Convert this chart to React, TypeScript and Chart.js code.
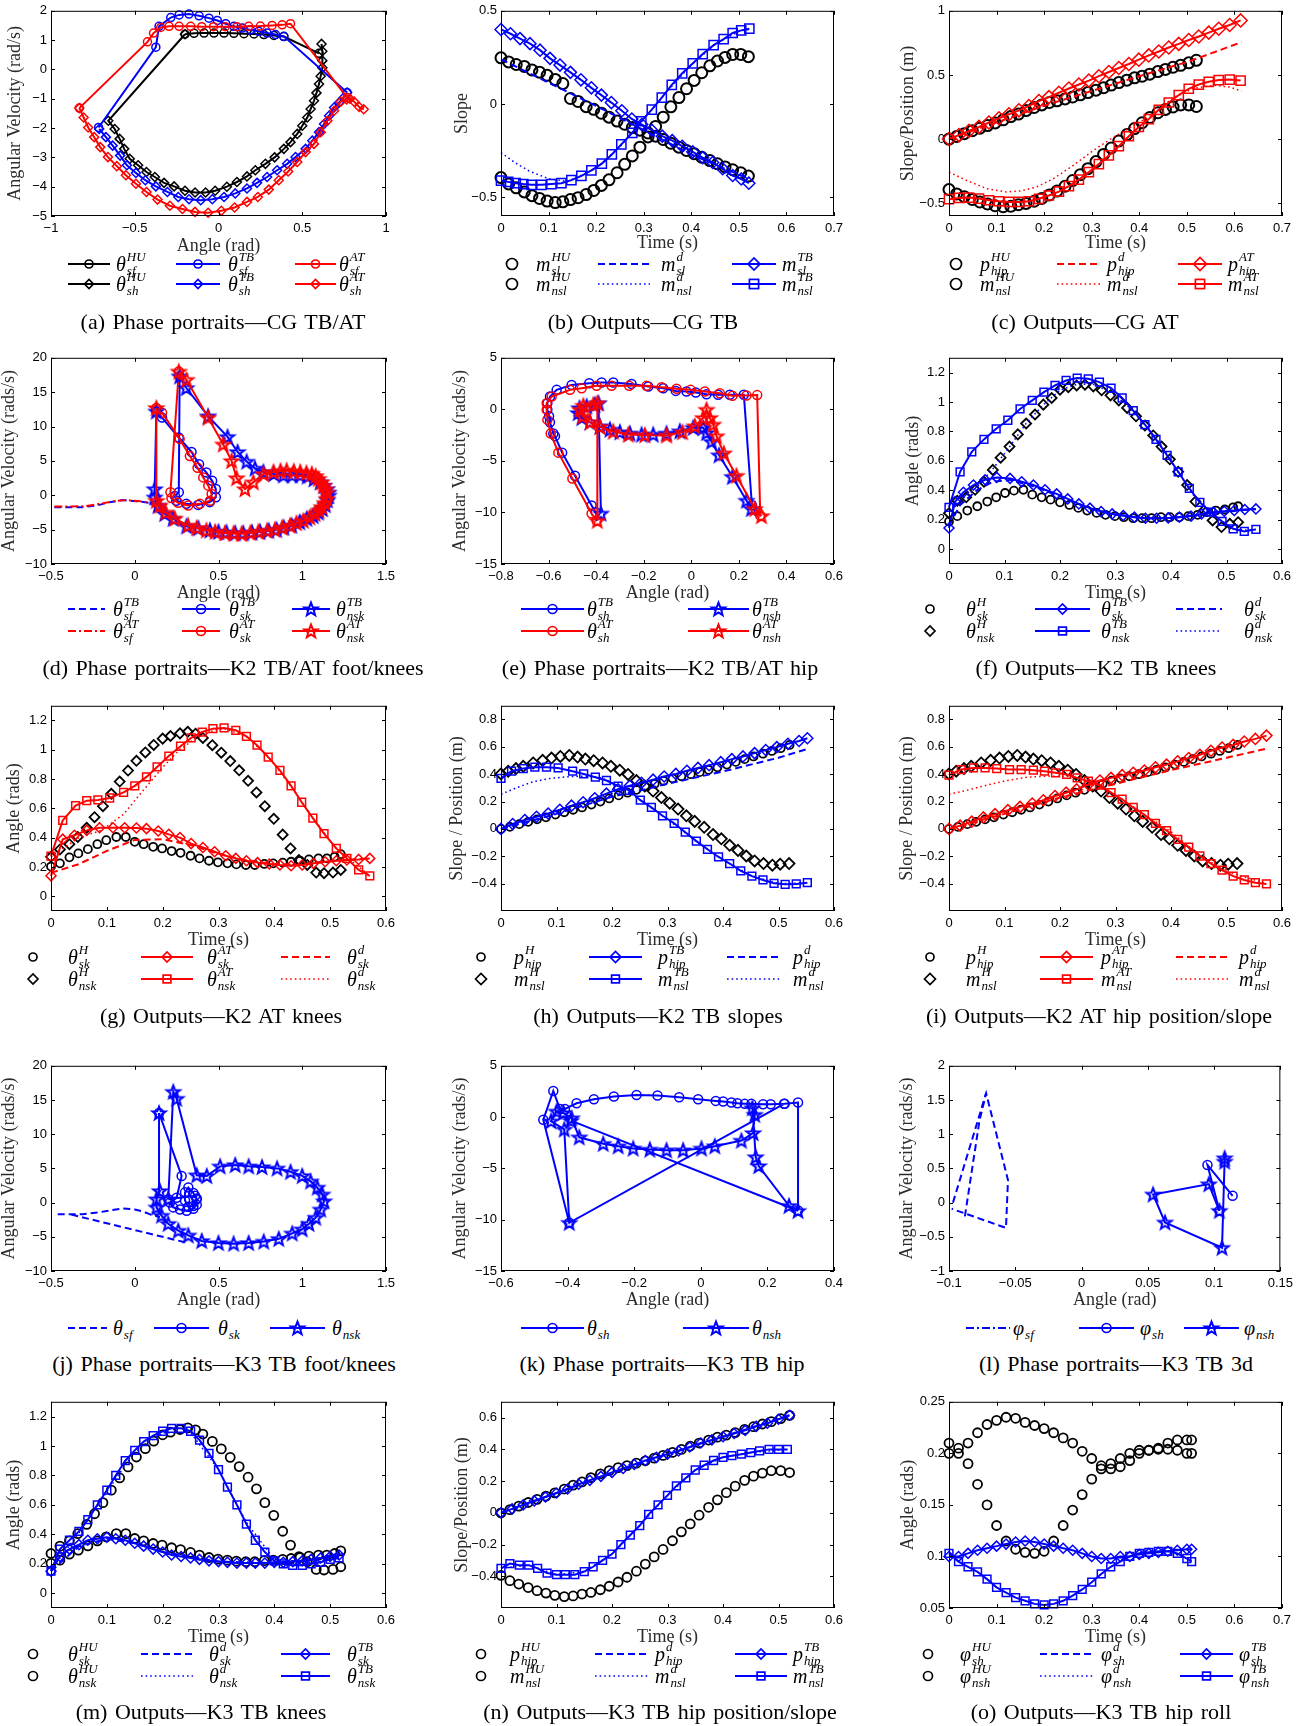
import React, { useEffect, useRef } from "react";
import { Chart, registerables } from "chart.js";
Chart.register(...registerables);

const K = "#000000", B = "#0000ff", R = "#ff0000";
const SERIF = '"Liberation Serif", "Times New Roman", Times, serif';
const SANS = '"Liberation Sans", Arial, Helvetica, sans-serif';

const zip = (t: number[], v: number[]) => t.map((x, i) => [x, v[i]]);

// ---------------- (a) Phase portraits — CG TB/AT
const A_XT = [-1, -0.5, 0, 0.5, 1];
const A_YT = [-5, -4, -3, -2, -1, 0, 1, 2];
const A_SF_HU = [[-0.2,1.2],[-0.146,1.23],[-0.086,1.24],[-0.027,1.24],[0.033,1.24],[0.092,1.23],[0.152,1.22],[0.212,1.21],[0.271,1.19],[0.331,1.16],[0.39,1.12],[0.6,0.55]];
const A_SH_HU = [[0.615,0.87],[0.62,0.62],[0.62,0.3],[0.62,0.06],[0.61,-0.23],[0.6,-0.5],[0.585,-0.8],[0.57,-1.07],[0.55,-1.35],[0.53,-1.64],[0.5,-1.92],[0.47,-2.2],[0.43,-2.48],[0.39,-2.71],[0.335,-3.0],[0.28,-3.22],[0.22,-3.44],[0.17,-3.65],[0.11,-3.84],[0.05,-4.0],[-0.02,-4.14],[-0.077,-4.2],[-0.14,-4.2],[-0.2,-4.14],[-0.265,-3.99],[-0.325,-3.87],[-0.38,-3.67],[-0.43,-3.5],[-0.48,-3.27],[-0.53,-3.05],[-0.563,-2.71],[-0.59,-2.37],[-0.62,-2.03],[-0.658,-1.75],[-0.2,1.2]];
const A_SF_TB = [[-0.716,-1.98],[-0.374,0.76],[-0.355,1.47],[-0.285,1.77],[-0.235,1.86],[-0.176,1.89],[-0.116,1.83],[-0.057,1.75],[-0.007,1.67],[0.043,1.56],[0.092,1.47],[0.142,1.41],[0.19,1.35],[0.24,1.3],[0.29,1.24],[0.34,1.19],[0.39,1.13],[0.768,-0.79]];
const A_SH_TB = [[0.768,-0.79],[0.748,-0.96],[0.72,-1.13],[0.69,-1.3],[0.66,-1.58],[0.63,-1.86],[0.6,-2.14],[0.56,-2.43],[0.52,-2.71],[0.46,-2.99],[0.41,-3.22],[0.35,-3.44],[0.29,-3.67],[0.23,-3.87],[0.17,-4.06],[0.1,-4.23],[0.033,-4.35],[-0.037,-4.43],[-0.106,-4.46],[-0.176,-4.43],[-0.24,-4.35],[-0.305,-4.18],[-0.374,-3.99],[-0.437,-3.78],[-0.493,-3.53],[-0.547,-3.27],[-0.587,-2.94],[-0.632,-2.6],[-0.672,-2.31],[-0.712,-2.03]];
const A_SF_AT = [[-0.831,-1.32],[-0.424,0.94],[-0.388,1.24],[-0.345,1.43],[-0.295,1.47],[-0.235,1.47],[-0.166,1.47],[-0.1,1.46],[-0.03,1.46],[0.04,1.46],[0.11,1.46],[0.18,1.47],[0.25,1.48],[0.32,1.5],[0.38,1.52],[0.43,1.56],[0.768,-0.96]];
const A_SH_AT = [[0.867,-1.36],[0.84,-1.28],[0.81,-1.1],[0.785,-1.0],[0.765,-1.02],[0.73,-1.1],[0.69,-1.41],[0.65,-1.75],[0.61,-2.14],[0.57,-2.54],[0.52,-2.82],[0.47,-3.16],[0.416,-3.48],[0.36,-3.78],[0.3,-4.1],[0.235,-4.35],[0.17,-4.52],[0.096,-4.71],[0.017,-4.82],[-0.062,-4.89],[-0.14,-4.86],[-0.215,-4.76],[-0.29,-4.65],[-0.364,-4.44],[-0.43,-4.18],[-0.493,-3.9],[-0.553,-3.61],[-0.607,-3.3],[-0.66,-2.99],[-0.706,-2.65],[-0.742,-2.31],[-0.778,-1.98],[-0.805,-1.64],[-0.831,-1.32]];

// ---------------- human (HU) outputs, CG
const T_HU = [0,0.016,0.032,0.049,0.065,0.081,0.097,0.114,0.130,0.146,0.162,0.179,0.195,0.211,0.227,0.244,0.260,0.276,0.292,0.309,0.325,0.341,0.357,0.374,0.390,0.406,0.422,0.439,0.455,0.471,0.487,0.504,0.520];
const MSL_HU = [0.248,0.226,0.212,0.202,0.183,0.171,0.154,0.132,0.11,0.03,0.014,-0.014,-0.028,-0.049,-0.07,-0.091,-0.108,-0.126,-0.14,-0.155,-0.172,-0.19,-0.21,-0.231,-0.249,-0.266,-0.285,-0.303,-0.32,-0.337,-0.352,-0.368,-0.386];
const MNSL_HU = [-0.394,-0.428,-0.449,-0.471,-0.491,-0.506,-0.52,-0.528,-0.524,-0.512,-0.502,-0.485,-0.463,-0.436,-0.406,-0.368,-0.323,-0.278,-0.231,-0.176,-0.12,-0.07,-0.015,0.035,0.082,0.127,0.168,0.205,0.231,0.25,0.266,0.266,0.254];
const PHIP_HU = [0,0.02,0.042,0.065,0.085,0.105,0.126,0.15,0.175,0.195,0.222,0.246,0.266,0.285,0.298,0.313,0.328,0.345,0.362,0.381,0.4,0.421,0.44,0.459,0.477,0.49,0.506,0.526,0.543,0.56,0.575,0.594,0.614];

// ---------------- (b) Outputs — CG TB
const B_XT = [0, 0.1, 0.2, 0.3, 0.4, 0.5, 0.6, 0.7];
const B_YT = [-0.5, 0, 0.5];
const B_MSL_D = [[0,0.24],[0.1,0.115],[0.2,-0.01],[0.3,-0.14],[0.4,-0.27],[0.52,-0.4]];
const B_MNSL_D = [[0,-0.26],[0.03,-0.315],[0.06,-0.36],[0.1,-0.4],[0.14,-0.415],[0.2,-0.345],[0.25,-0.23],[0.3,-0.08],[0.35,0.07],[0.4,0.21],[0.45,0.32],[0.5,0.39],[0.52,0.4]];
const B_MSL_TB = [[0,0.4],[0.02,0.377],[0.04,0.351],[0.061,0.324],[0.082,0.289],[0.103,0.245],[0.124,0.209],[0.146,0.17],[0.168,0.13],[0.19,0.087],[0.211,0.048],[0.232,0.008],[0.254,-0.036],[0.275,-0.08],[0.296,-0.11],[0.317,-0.14],[0.339,-0.172],[0.36,-0.196],[0.381,-0.226],[0.403,-0.256],[0.424,-0.287],[0.445,-0.313],[0.466,-0.347],[0.487,-0.383],[0.505,-0.402],[0.521,-0.424]];
const B_MNSL_TB = [[0,-0.41],[0.015,-0.417],[0.031,-0.424],[0.047,-0.429],[0.064,-0.433],[0.085,-0.433],[0.106,-0.429],[0.127,-0.424],[0.148,-0.408],[0.169,-0.385],[0.19,-0.355],[0.212,-0.319],[0.233,-0.27],[0.253,-0.216],[0.276,-0.154],[0.295,-0.092],[0.317,-0.03],[0.338,0.035],[0.359,0.103],[0.381,0.165],[0.403,0.218],[0.424,0.268],[0.447,0.316],[0.468,0.348],[0.487,0.381],[0.505,0.395],[0.522,0.404]];

// ---------------- (c) Outputs — CG AT
const C_YT = [-0.5, 0, 0.5, 1];
const C_PHIP_D = [[0,0],[0.1,0.13],[0.2,0.26],[0.3,0.375],[0.4,0.49],[0.5,0.6],[0.615,0.755]];
const C_MNSL_D = [[0,-0.258],[0.037,-0.322],[0.079,-0.387],[0.121,-0.412],[0.15,-0.405],[0.184,-0.374],[0.219,-0.31],[0.261,-0.206],[0.303,-0.09],[0.345,0.013],[0.387,0.103],[0.429,0.193],[0.471,0.322],[0.513,0.394],[0.555,0.42],[0.59,0.405],[0.615,0.374]];
const C_PHIP_AT = [[0,0],[0.021,0.031],[0.042,0.064],[0.063,0.095],[0.084,0.129],[0.105,0.162],[0.126,0.193],[0.147,0.224],[0.168,0.258],[0.189,0.296],[0.21,0.327],[0.231,0.361],[0.252,0.394],[0.273,0.425],[0.294,0.456],[0.315,0.49],[0.336,0.523],[0.357,0.554],[0.378,0.585],[0.399,0.619],[0.42,0.652],[0.441,0.683],[0.462,0.714],[0.483,0.742],[0.504,0.772],[0.525,0.8],[0.546,0.83],[0.567,0.86],[0.59,0.889],[0.613,0.925]];
const C_MNSL_AT = [[0,-0.469],[0.021,-0.459],[0.042,-0.456],[0.063,-0.464],[0.084,-0.477],[0.105,-0.485],[0.126,-0.49],[0.147,-0.49],[0.168,-0.485],[0.189,-0.466],[0.21,-0.44],[0.231,-0.41],[0.252,-0.367],[0.273,-0.316],[0.294,-0.258],[0.315,-0.195],[0.336,-0.128],[0.357,-0.055],[0.378,0.022],[0.399,0.094],[0.42,0.156],[0.441,0.228],[0.462,0.285],[0.483,0.343],[0.504,0.392],[0.525,0.425],[0.546,0.446],[0.567,0.46],[0.59,0.464],[0.613,0.456]];

// ---------------- (d) Phase portraits — K2 foot/knees
const D_XT = [-0.5, 0, 0.5, 1, 1.5];
const D_YT = [-10, -5, 0, 5, 10, 15, 20];
const D_SF_TB = [[-0.48,-1.73],[-0.31,-1.73],[-0.22,-1.45],[-0.15,-1.0],[-0.07,-0.7],[0.01,-0.87],[0.09,-1.1],[0.13,-1.4]];
const D_SF_AT = [[-0.48,-1.65],[-0.3,-1.6],[-0.2,-1.2],[-0.12,-0.85],[-0.05,-0.7],[0.02,-0.85],[0.09,-1.05],[0.13,-1.3]];
const D_SK_TB = [[0.129,12.2],[0.163,11.3],[0.263,8.4],[0.339,6.3],[0.384,4.5],[0.428,3.3],[0.462,2.1],[0.484,0.9],[0.484,-0.3],[0.448,-1.0],[0.378,-1.4],[0.308,-1.25],[0.248,-0.8],[0.24,-0.1],[0.263,0.43],[0.268,17.3]];
const D_SK_AT = [[0.129,12.7],[0.163,12.0],[0.268,8.2],[0.329,5.7],[0.375,4.0],[0.409,2.6],[0.439,1.4],[0.459,0.2],[0.449,-0.8],[0.389,-1.25],[0.319,-1.5],[0.259,-1.1],[0.219,-0.4],[0.213,0.43],[0.263,18.0]];
const D_NSK_TB = [[0.268,17.3],[0.308,15.6],[0.438,11.5],[0.554,8.5],[0.614,6.3],[0.668,4.9],[0.718,3.9],[0.768,3.4],[0.83,3.1],[0.888,2.9],[0.94,2.9],[0.988,2.9],[1.03,2.75],[1.07,2.35],[1.107,1.9],[1.13,1.4],[1.147,0.9],[1.157,0.4],[1.157,-0.05],[1.15,-0.7],[1.137,-1.4],[1.12,-2.0],[1.097,-2.5],[1.065,-3.0],[1.027,-3.4],[0.985,-3.9],[0.937,-4.4],[0.89,-4.7],[0.847,-5.0],[0.8,-5.15],[0.748,-5.3],[0.7,-5.4],[0.648,-5.5],[0.6,-5.5],[0.548,-5.4],[0.5,-5.3],[0.449,-5.1],[0.38,-4.8],[0.309,-4.5],[0.229,-3.4],[0.179,-2.7],[0.139,-1.5],[0.119,-0.3],[0.119,0.9],[0.129,12.2]];
const D_NSK_AT = [[0.263,18.0],[0.309,16.8],[0.438,11.3],[0.528,7.4],[0.578,5.0],[0.608,2.5],[0.658,0.9],[0.708,1.9],[0.768,3.1],[0.828,3.4],[0.87,3.55],[0.907,3.6],[0.95,3.5],[0.988,3.4],[1.025,3.25],[1.057,3.1],[1.08,2.8],[1.097,2.4],[1.115,1.9],[1.127,1.4],[1.14,0.9],[1.147,0.4],[1.147,-0.5],[1.135,-1.1],[1.117,-1.7],[1.1,-2.2],[1.077,-2.7],[1.045,-3.2],[1.007,-3.7],[0.965,-4.05],[0.927,-4.4],[0.88,-4.7],[0.837,-5.0],[0.79,-5.15],[0.738,-5.3],[0.69,-5.45],[0.638,-5.6],[0.59,-5.55],[0.538,-5.5],[0.48,-5.3],[0.428,-5.1],[0.37,-4.75],[0.318,-4.4],[0.239,-3.4],[0.185,-2.5],[0.149,-1.5],[0.129,-0.8],[0.129,12.7]];

// ---------------- (e) Phase portraits — K2 hip
const E_XT = [-0.8, -0.6, -0.4, -0.2, 0, 0.2, 0.4, 0.6];
const E_YT = [-15, -10, -5, 0, 5];
const E_SH_TB = [[0.255,-9.3],[0.221,1.41],[0.162,1.41],[0.113,1.41],[0.064,1.47],[0.019,1.63],[-0.02,1.73],[-0.065,1.79],[-0.118,2.05],[-0.181,2.21],[-0.251,2.47],[-0.328,2.6],[-0.377,2.6],[-0.429,2.53],[-0.503,2.37],[-0.566,1.89],[-0.594,1.25],[-0.605,0.6],[-0.605,-0.03],[-0.598,-0.67],[-0.594,-1.25],[-0.58,-2.34],[-0.573,-2.6],[-0.543,-4.2],[-0.489,-6.44],[-0.419,-9.33],[-0.402,-9.97]];
const E_NSH_TB = [[-0.38,-10.1],[-0.39,0.6],[-0.405,0.45],[-0.44,0.29],[-0.47,0.13],[-0.475,-0.35],[-0.46,-0.83],[-0.426,-1.25],[-0.384,-1.63],[-0.342,-1.96],[-0.3,-2.21],[-0.258,-2.34],[-0.209,-2.44],[-0.16,-2.44],[-0.104,-2.34],[-0.048,-2.12],[0.008,-1.79],[0.05,-1.79],[0.064,-2.28],[0.085,-3.14],[0.117,-4.45],[0.173,-6.54],[0.232,-8.85],[0.253,-9.65]];
const E_SH_AT = [[0.29,-10.3],[0.277,1.38],[0.232,1.35],[0.173,1.31],[0.12,1.57],[0.057,1.73],[-0.003,1.89],[-0.062,1.99],[-0.125,2.15],[-0.188,2.28],[-0.261,2.28],[-0.335,2.28],[-0.398,2.28],[-0.461,2.05],[-0.51,1.89],[-0.587,1.25],[-0.608,0.6],[-0.608,-0.03],[-0.605,-1.0],[-0.591,-2.34],[-0.559,-4.2],[-0.5,-6.7],[-0.419,-10.1],[-0.398,-10.8]];
const E_NSH_AT = [[-0.395,-10.8],[-0.395,0.6],[-0.412,0.45],[-0.454,0.35],[-0.468,-0.03],[-0.457,-0.67],[-0.426,-1.25],[-0.384,-1.7],[-0.328,-2.15],[-0.265,-2.44],[-0.195,-2.5],[-0.104,-2.53],[-0.037,-2.21],[0.015,-1.63],[0.05,-0.83],[0.064,-0.03],[0.078,-0.83],[0.092,-1.47],[0.106,-2.6],[0.137,-4.26],[0.19,-6.44],[0.267,-9.65],[0.295,-10.35]];

// ---------------- (f) Outputs — K2 TB knees
const F_XT = [0, 0.1, 0.2, 0.3, 0.4, 0.5, 0.6];
const F_YT = [0, 0.2, 0.4, 0.6, 0.8, 1, 1.2];
const F_SK_H = [[0,0.189],[0.015,0.225],[0.033,0.263],[0.051,0.292],[0.069,0.324],[0.085,0.353],[0.101,0.382],[0.117,0.398],[0.134,0.404],[0.15,0.371],[0.167,0.353],[0.183,0.337],[0.2,0.319],[0.217,0.301],[0.233,0.281],[0.249,0.263],[0.266,0.247],[0.282,0.234],[0.299,0.225],[0.315,0.218],[0.332,0.211],[0.348,0.211],[0.365,0.211],[0.382,0.218],[0.398,0.218],[0.415,0.218],[0.431,0.225],[0.448,0.234],[0.464,0.252],[0.481,0.263],[0.497,0.27],[0.512,0.285],[0.521,0.292]];
const F_NSK_H = [[0,0.245],[0.015,0.33],[0.031,0.353],[0.047,0.404],[0.063,0.458],[0.079,0.539],[0.093,0.622],[0.109,0.697],[0.124,0.78],[0.139,0.854],[0.155,0.915],[0.17,0.982],[0.185,1.027],[0.2,1.083],[0.215,1.101],[0.23,1.112],[0.245,1.117],[0.26,1.106],[0.275,1.079],[0.291,1.045],[0.306,1.011],[0.321,0.96],[0.337,0.903],[0.353,0.84],[0.368,0.773],[0.383,0.697],[0.398,0.611],[0.413,0.526],[0.429,0.436],[0.444,0.324],[0.459,0.263],[0.475,0.196],[0.491,0.151],[0.506,0.173],[0.521,0.184]];
const F_SK_TB = [[0,0.144],[0.011,0.324],[0.026,0.387],[0.044,0.436],[0.065,0.472],[0.086,0.488],[0.11,0.481],[0.131,0.458],[0.152,0.436],[0.173,0.404],[0.194,0.376],[0.214,0.342],[0.234,0.308],[0.254,0.279],[0.274,0.256],[0.294,0.24],[0.314,0.229],[0.334,0.218],[0.354,0.211],[0.374,0.211],[0.395,0.213],[0.415,0.218],[0.436,0.225],[0.455,0.24],[0.476,0.252],[0.496,0.258],[0.514,0.263],[0.533,0.27],[0.553,0.274]];
const F_NSK_TB = [[0,0.285],[0.02,0.526],[0.041,0.661],[0.063,0.746],[0.085,0.818],[0.106,0.876],[0.128,0.953],[0.15,1.011],[0.171,1.067],[0.191,1.112],[0.211,1.146],[0.231,1.162],[0.251,1.157],[0.271,1.135],[0.292,1.094],[0.312,1.027],[0.332,0.942],[0.353,0.847],[0.373,0.746],[0.393,0.638],[0.413,0.526],[0.433,0.413],[0.452,0.319],[0.472,0.252],[0.492,0.189],[0.512,0.139],[0.532,0.121],[0.553,0.135]];
const F_SK_D = [[0,0.16],[0.02,0.3],[0.05,0.4],[0.08,0.46],[0.11,0.47],[0.15,0.43],[0.2,0.36],[0.25,0.28],[0.3,0.235],[0.35,0.212],[0.4,0.212],[0.45,0.235],[0.5,0.258],[0.553,0.272]];
const F_NSK_D = [[0,0.27],[0.02,0.33],[0.05,0.42],[0.08,0.55],[0.11,0.7],[0.14,0.86],[0.17,0.98],[0.2,1.08],[0.23,1.12],[0.26,1.12],[0.29,1.07],[0.32,0.98],[0.35,0.86],[0.38,0.72],[0.41,0.54],[0.44,0.37],[0.47,0.25],[0.5,0.17],[0.53,0.13],[0.553,0.135]];

// ---------------- (g) Outputs — K2 AT knees
const G_SK_H = [[0,0.203],[0.016,0.225],[0.033,0.266],[0.049,0.293],[0.066,0.322],[0.083,0.356],[0.099,0.383],[0.117,0.405],[0.134,0.405],[0.15,0.372],[0.166,0.356],[0.183,0.338],[0.199,0.327],[0.216,0.309],[0.232,0.297],[0.25,0.277],[0.266,0.259],[0.283,0.243],[0.299,0.232],[0.316,0.225],[0.332,0.218],[0.349,0.214],[0.365,0.214],[0.382,0.221],[0.398,0.225],[0.415,0.23],[0.43,0.236],[0.446,0.243],[0.462,0.252],[0.479,0.259],[0.494,0.259],[0.508,0.27],[0.519,0.288]];
const G_NSK_H = [[0,0.27],[0.016,0.32],[0.033,0.356],[0.048,0.405],[0.064,0.468],[0.078,0.54],[0.093,0.615],[0.108,0.7],[0.123,0.783],[0.138,0.858],[0.153,0.925],[0.169,0.982],[0.184,1.033],[0.2,1.076],[0.214,1.094],[0.231,1.112],[0.245,1.123],[0.259,1.11],[0.272,1.081],[0.289,1.031],[0.305,0.98],[0.321,0.923],[0.337,0.86],[0.353,0.788],[0.368,0.709],[0.383,0.615],[0.399,0.529],[0.415,0.421],[0.429,0.327],[0.444,0.248],[0.459,0.214],[0.475,0.162],[0.489,0.158],[0.505,0.162],[0.519,0.18]];
const G_SK_AT = [[0,0.14],[0.021,0.39],[0.042,0.417],[0.064,0.45],[0.087,0.468],[0.111,0.468],[0.132,0.468],[0.153,0.466],[0.171,0.462],[0.192,0.446],[0.211,0.423],[0.231,0.401],[0.251,0.36],[0.272,0.333],[0.293,0.304],[0.313,0.277],[0.331,0.259],[0.35,0.243],[0.37,0.23],[0.391,0.221],[0.41,0.214],[0.43,0.209],[0.45,0.214],[0.47,0.225],[0.491,0.236],[0.511,0.243],[0.53,0.248],[0.551,0.252],[0.571,0.259]];
const G_NSK_AT = [[0,0.275],[0.021,0.518],[0.044,0.619],[0.064,0.653],[0.084,0.658],[0.105,0.671],[0.13,0.709],[0.15,0.754],[0.171,0.815],[0.19,0.883],[0.211,0.957],[0.232,1.024],[0.251,1.081],[0.271,1.121],[0.29,1.144],[0.31,1.149],[0.331,1.133],[0.35,1.092],[0.369,1.031],[0.389,0.95],[0.41,0.86],[0.43,0.754],[0.449,0.642],[0.469,0.534],[0.489,0.428],[0.511,0.327],[0.53,0.259],[0.551,0.18],[0.571,0.14]];
const G_SK_D = [[0,0.16],[0.05,0.22],[0.1,0.31],[0.15,0.385],[0.2,0.39],[0.25,0.35],[0.3,0.29],[0.35,0.245],[0.4,0.22],[0.45,0.215],[0.5,0.24],[0.571,0.26]];
const G_NSK_D = [[0,0.27],[0.05,0.4],[0.09,0.45],[0.13,0.56],[0.16,0.7],[0.2,0.88],[0.23,1.0],[0.26,1.08],[0.29,1.13],[0.31,1.145],[0.35,1.09],[0.39,0.95],[0.43,0.75],[0.47,0.53],[0.51,0.33],[0.571,0.14]];

// ---------------- (h) Outputs — K2 TB slopes
const H_YT = [-0.4, -0.2, 0, 0.2, 0.4, 0.6, 0.8];
const H_PHIP_H = [[0,0],[0.016,0.015],[0.033,0.035],[0.049,0.052],[0.065,0.07],[0.081,0.085],[0.098,0.105],[0.114,0.122],[0.13,0.14],[0.146,0.157],[0.163,0.178],[0.179,0.2],[0.195,0.223],[0.212,0.245],[0.228,0.265],[0.244,0.286],[0.26,0.31],[0.277,0.33],[0.293,0.352],[0.309,0.37],[0.325,0.385],[0.342,0.4],[0.358,0.415],[0.374,0.432],[0.39,0.45],[0.407,0.47],[0.423,0.49],[0.439,0.51],[0.455,0.53],[0.472,0.55],[0.488,0.57],[0.504,0.59],[0.52,0.614]];
const H_MNSL_H = [[0,0.402],[0.013,0.422],[0.027,0.441],[0.04,0.458],[0.058,0.482],[0.075,0.501],[0.091,0.518],[0.107,0.53],[0.123,0.537],[0.138,0.525],[0.152,0.511],[0.167,0.499],[0.183,0.482],[0.198,0.458],[0.214,0.429],[0.229,0.398],[0.244,0.354],[0.259,0.313],[0.274,0.277],[0.289,0.229],[0.304,0.188],[0.319,0.145],[0.334,0.096],[0.349,0.055],[0.366,0.012],[0.382,-0.041],[0.397,-0.072],[0.412,-0.12],[0.427,-0.157],[0.442,-0.198],[0.457,-0.234],[0.473,-0.253],[0.489,-0.265],[0.503,-0.258],[0.519,-0.253]];
const H_PHIP_TB = [[0,0],[0.021,0.036],[0.043,0.065],[0.064,0.089],[0.085,0.113],[0.106,0.14],[0.127,0.17],[0.148,0.195],[0.169,0.224],[0.19,0.258],[0.211,0.29],[0.232,0.315],[0.253,0.337],[0.274,0.36],[0.294,0.383],[0.315,0.402],[0.335,0.425],[0.355,0.446],[0.375,0.466],[0.396,0.488],[0.416,0.51],[0.436,0.53],[0.457,0.554],[0.477,0.577],[0.497,0.598],[0.517,0.622],[0.537,0.643],[0.552,0.663]];
const H_MNSL_TB = [[0,0.369],[0.019,0.422],[0.04,0.441],[0.061,0.451],[0.082,0.451],[0.103,0.446],[0.129,0.422],[0.149,0.402],[0.17,0.378],[0.19,0.354],[0.211,0.313],[0.231,0.282],[0.251,0.21],[0.271,0.157],[0.291,0.096],[0.312,0.041],[0.332,-0.024],[0.352,-0.089],[0.372,-0.149],[0.392,-0.205],[0.412,-0.253],[0.432,-0.306],[0.452,-0.345],[0.472,-0.373],[0.492,-0.398],[0.512,-0.405],[0.532,-0.402],[0.552,-0.393]];
const H_PHIP_D = [[0,0],[0.1,0.11],[0.2,0.235],[0.25,0.28],[0.3,0.33],[0.4,0.42],[0.5,0.52],[0.552,0.585]];
const H_MNSL_D = [[0,0.253],[0.028,0.301],[0.058,0.345],[0.088,0.369],[0.118,0.381],[0.148,0.386],[0.18,0.375],[0.21,0.32],[0.25,0.215],[0.3,0.07],[0.35,-0.085],[0.4,-0.225],[0.45,-0.34],[0.5,-0.4],[0.552,-0.395]];

// ---------------- (i) Outputs — K2 AT hip position/slope
const I_PHIP_AT = [[0,0],[0.02,0.024],[0.041,0.053],[0.062,0.084],[0.083,0.108],[0.106,0.137],[0.128,0.161],[0.15,0.186],[0.17,0.21],[0.191,0.241],[0.211,0.265],[0.23,0.289],[0.251,0.325],[0.272,0.354],[0.292,0.373],[0.312,0.393],[0.332,0.41],[0.352,0.427],[0.372,0.451],[0.392,0.47],[0.412,0.494],[0.432,0.518],[0.452,0.542],[0.472,0.571],[0.492,0.595],[0.512,0.614],[0.532,0.639],[0.552,0.658],[0.572,0.682]];
const I_MNSL_AT = [[0,0.393],[0.022,0.434],[0.044,0.446],[0.065,0.446],[0.086,0.441],[0.109,0.434],[0.13,0.434],[0.152,0.429],[0.172,0.422],[0.192,0.41],[0.212,0.398],[0.231,0.373],[0.251,0.349],[0.271,0.32],[0.292,0.265],[0.312,0.217],[0.332,0.157],[0.352,0.104],[0.372,0.041],[0.392,-0.012],[0.412,-0.077],[0.432,-0.133],[0.452,-0.198],[0.472,-0.253],[0.492,-0.301],[0.512,-0.345],[0.532,-0.373],[0.552,-0.393],[0.572,-0.402]];
const I_PHIP_D = [[0,0],[0.1,0.11],[0.2,0.23],[0.3,0.33],[0.4,0.43],[0.5,0.52],[0.575,0.59]];
const I_MNSL_D = [[0,0.253],[0.032,0.282],[0.068,0.32],[0.104,0.354],[0.14,0.378],[0.176,0.386],[0.22,0.385],[0.26,0.335],[0.3,0.25],[0.35,0.11],[0.4,-0.02],[0.45,-0.19],[0.5,-0.31],[0.572,-0.4]];

// ---------------- (j) Phase portraits — K3 foot/knees
const J_SF_A = [[-0.46,-1.7],[-0.31,-1.7],[-0.22,-1.45],[-0.15,-1.15],[-0.07,-0.87],[0.0,-1.0],[0.05,-1.3],[0.1,-1.8],[0.15,-2.1]];
const J_SF_B = [[0.3,-5.8],[-0.38,-1.75]];
const J_SK = [[0.145,13.1],[0.28,3.9],[0.25,0.7],[0.21,0.0],[0.23,-0.7],[0.27,-1.0],[0.31,-1.2],[0.35,-0.9],[0.37,-0.3],[0.37,0.5],[0.35,1.4],[0.32,2.2],[0.3,1.5],[0.3,0.3],[0.32,-0.6],[0.35,-0.5],[0.37,0.6],[0.36,1.0],[0.2,0.5]];
const J_NSK = [[0.2,0.5],[0.23,16.2],[0.25,15.2],[0.37,4.0],[0.43,3.9],[0.51,5.3],[0.6,5.5],[0.68,5.3],[0.76,5.2],[0.85,5.0],[0.93,4.5],[1.0,3.9],[1.05,3.1],[1.09,2.2],[1.12,1.2],[1.13,0.2],[1.11,-1.0],[1.08,-2.2],[1.04,-3.1],[1.0,-3.9],[0.94,-4.5],[0.86,-5.3],[0.77,-5.7],[0.68,-5.9],[0.59,-6.0],[0.5,-5.9],[0.4,-5.6],[0.32,-4.8],[0.26,-4.1],[0.2,-3.1],[0.16,-1.9],[0.13,-0.7],[0.13,0.5],[0.15,1.7],[0.145,13.1]];

// ---------------- (k) Phase portraits — K3 hip
const K_XT = [-0.6, -0.4, -0.2, 0, 0.2, 0.4];
const K_SH = [[0.292,-9.1],[0.292,1.42],[0.252,1.29],[0.21,1.26],[0.187,1.26],[0.152,1.29],[0.132,1.29],[0.11,1.35],[0.092,1.42],[0.067,1.52],[0.045,1.58],[-0.008,1.74],[-0.065,1.94],[-0.13,2.1],[-0.193,2.16],[-0.261,2.0],[-0.321,1.74],[-0.373,1.35],[-0.408,0.8],[-0.423,0.8],[-0.443,2.55],[-0.473,-0.26],[-0.395,-10.3],[0.25,1.3]];
const K_NSH = [[-0.395,-10.3],[-0.41,-1.2],[-0.45,-0.4],[-0.433,0.55],[-0.413,0.4],[-0.388,-0.1],[-0.365,-1.97],[-0.293,-2.6],[-0.248,-2.84],[-0.203,-3.06],[-0.153,-3.16],[-0.103,-3.23],[-0.053,-3.23],[0.002,-3.06],[0.042,-2.84],[0.122,-2.29],[0.157,-1.55],[0.162,0.23],[0.155,0.87],[0.165,-3.9],[0.174,-4.77],[0.265,-8.65],[0.292,-9.13],[-0.39,-0.35]];

// ---------------- (l) Phase portraits — K3 3d
const L_XT = [-0.1, -0.05, 0, 0.05, 0.1, 0.15];
const L_YT = [-1, -0.5, 0, 0.5, 1, 1.5, 2];
const L_SF_A = [[-0.097,0.0],[-0.072,1.6],[-0.0555,0.33],[-0.057,-0.37],[-0.098,-0.09]];
const L_SF_B = [[-0.088,-0.2],[-0.077,1.2],[-0.072,1.6]];
const L_SH = [[0.114,0.1],[0.095,0.55],[0.104,-0.12]];
const L_NSH = [[0.104,-0.12],[0.096,0.27],[0.054,0.12],[0.063,-0.29],[0.106,-0.66],[0.108,0.65],[0.108,0.6]];

// ---------------- (m) Outputs — K3 TB knees
const M_SK_TB = [[0,0.15],[0.016,0.25],[0.033,0.3],[0.05,0.33],[0.066,0.36],[0.083,0.37],[0.1,0.38],[0.116,0.37],[0.133,0.36],[0.15,0.34],[0.166,0.32],[0.183,0.3],[0.2,0.28],[0.216,0.26],[0.233,0.25],[0.25,0.24],[0.266,0.23],[0.283,0.22],[0.3,0.215],[0.316,0.21],[0.333,0.205],[0.35,0.205],[0.366,0.205],[0.383,0.205],[0.4,0.21],[0.416,0.21],[0.433,0.215],[0.45,0.22],[0.466,0.23],[0.483,0.24],[0.5,0.25],[0.516,0.26]];
const M_NSK_TB = [[0,0.15],[0.016,0.3],[0.033,0.36],[0.05,0.42],[0.066,0.5],[0.083,0.6],[0.1,0.7],[0.116,0.8],[0.133,0.9],[0.15,0.97],[0.166,1.03],[0.183,1.07],[0.2,1.1],[0.216,1.12],[0.233,1.12],[0.25,1.1],[0.266,1.04],[0.283,0.95],[0.3,0.84],[0.316,0.72],[0.333,0.6],[0.35,0.47],[0.366,0.36],[0.383,0.28],[0.4,0.22],[0.416,0.2],[0.433,0.19],[0.45,0.19],[0.466,0.2],[0.483,0.21],[0.5,0.23],[0.516,0.24]];
const M_SK_D = [[0,0.15],[0.05,0.32],[0.1,0.37],[0.15,0.34],[0.2,0.28],[0.3,0.215],[0.4,0.205],[0.5,0.245],[0.516,0.255]];
const M_NSK_D = [[0,0.16],[0.05,0.41],[0.1,0.69],[0.15,0.96],[0.2,1.09],[0.25,1.09],[0.3,0.84],[0.35,0.48],[0.4,0.23],[0.45,0.19],[0.516,0.24]];

// ---------------- (n) Outputs — K3 TB hip position/slope
const N_YT = [-0.4, -0.2, 0, 0.2, 0.4, 0.6];
const N_PHIP_TB = [[0,0],[0.02,0.025],[0.04,0.05],[0.06,0.075],[0.08,0.1],[0.1,0.125],[0.12,0.15],[0.14,0.18],[0.16,0.205],[0.18,0.23],[0.2,0.255],[0.22,0.28],[0.24,0.305],[0.26,0.33],[0.28,0.35],[0.3,0.37],[0.32,0.39],[0.34,0.415],[0.36,0.44],[0.38,0.46],[0.4,0.48],[0.42,0.5],[0.44,0.52],[0.46,0.545],[0.48,0.565],[0.5,0.59],[0.52,0.615]];
const N_MNSL_TB = [[0,-0.35],[0.016,-0.32],[0.033,-0.33],[0.05,-0.33],[0.066,-0.35],[0.083,-0.38],[0.1,-0.39],[0.116,-0.39],[0.133,-0.39],[0.15,-0.37],[0.166,-0.34],[0.183,-0.3],[0.2,-0.26],[0.216,-0.2],[0.233,-0.14],[0.25,-0.08],[0.266,-0.01],[0.283,0.05],[0.3,0.11],[0.316,0.17],[0.333,0.22],[0.35,0.27],[0.366,0.3],[0.383,0.33],[0.4,0.35],[0.416,0.36],[0.433,0.37],[0.45,0.38],[0.466,0.39],[0.483,0.4],[0.5,0.4],[0.516,0.4]];
const N_PHIP_D = [[0,0],[0.1,0.125],[0.2,0.25],[0.3,0.37],[0.4,0.48],[0.52,0.615]];
const N_MNSL_D = [[0,-0.35],[0.05,-0.33],[0.1,-0.39],[0.15,-0.37],[0.2,-0.26],[0.25,-0.08],[0.3,0.11],[0.35,0.27],[0.4,0.35],[0.45,0.38],[0.516,0.4]];

// ---------------- (o) Outputs — K3 TB hip roll
const O_YT = [0.05, 0.1, 0.15, 0.2, 0.25];
const T_O = [0,0.02,0.04,0.06,0.08,0.1,0.12,0.14,0.16,0.18,0.2,0.22,0.24,0.26,0.28,0.3,0.32,0.34,0.36,0.38,0.4,0.42,0.44,0.46,0.48,0.5,0.51];
const O_SH_HU = [0.21,0.205,0.21,0.22,0.228,0.232,0.235,0.234,0.23,0.227,0.224,0.22,0.215,0.21,0.202,0.195,0.188,0.185,0.187,0.193,0.2,0.203,0.204,0.204,0.203,0.2,0.2];
const O_NSH_HU = [0.2,0.2,0.19,0.17,0.15,0.13,0.115,0.107,0.104,0.103,0.105,0.115,0.13,0.145,0.16,0.175,0.185,0.19,0.195,0.2,0.203,0.203,0.205,0.21,0.213,0.213,0.213];
const O_SH_TB = [0.1,0.1,0.103,0.106,0.108,0.11,0.112,0.114,0.115,0.114,0.112,0.11,0.108,0.106,0.103,0.1,0.098,0.098,0.1,0.1,0.102,0.103,0.104,0.105,0.106,0.107,0.107];
const O_NSH_TB = [0.103,0.095,0.09,0.085,0.078,0.07,0.065,0.06,0.057,0.054,0.053,0.054,0.057,0.062,0.068,0.075,0.083,0.09,0.095,0.1,0.103,0.104,0.105,0.105,0.103,0.098,0.095];

// ---------------- styling helpers
type Pt = number[];
interface Ser { d: Pt[]; c: string; m: string | null; l: string | null; r: number; lw: number; mw: number; }
const S = (d: Pt[], c: string, m: string | null, l: string | null, r = 4, lw = 2, mw = 1.5): Ser => ({ d, c, m, l, r, lw, mw: m === "*" && mw === 1.5 ? 2 : mw });
interface Leg { c: string; l: string | null; m: string | null; r: number; b: string; sup: string; sub: string; }
const L = (c: string, l: string | null, m: string | null, r: number, b: string, sup: string, sub: string): Leg => ({ c, l, m, r, b, sup, sub });

const dashOf = (l: string | null) => (l === "--" ? [7, 4] : l === ":" ? [1.6, 3] : l === "-." ? [8, 3, 2, 3] : []);

const starCache: Record<string, HTMLCanvasElement> = {};
function starPts(cx: number, cy: number, r: number) {
  const pts: number[][] = [];
  for (let i = 0; i < 10; i++) {
    const a = -Math.PI / 2 + (i * Math.PI) / 5;
    const rr = i % 2 === 0 ? r : r * 0.42;
    pts.push([cx + rr * Math.cos(a), cy + rr * Math.sin(a)]);
  }
  return pts;
}
function starImg(color: string, r: number, lw: number) {
  const key = color + "_" + r + "_" + lw;
  if (starCache[key]) return starCache[key];
  const s = Math.ceil(2 * r + 2 * lw + 2);
  const c = document.createElement("canvas");
  c.width = s; c.height = s;
  const ctx = c.getContext("2d")!;
  ctx.strokeStyle = color; ctx.lineWidth = lw; ctx.lineJoin = "miter";
  ctx.beginPath();
  starPts(s / 2, s / 2 + r * 0.08, r).forEach((p, i) => (i === 0 ? ctx.moveTo(p[0], p[1]) : ctx.lineTo(p[0], p[1])));
  ctx.closePath(); ctx.stroke();
  starCache[key] = c;
  return c;
}

function toDs(s: Ser, i: number) {
  let ps: any = "circle";
  if (s.m === "d") ps = "rectRot";
  else if (s.m === "s") ps = "rect";
  else if (s.m === "*") ps = starImg(s.c, s.r, s.mw);
  return {
    data: s.d.map((p) => ({ x: p[0], y: p[1] })),
    showLine: !!s.l,
    borderColor: s.c,
    backgroundColor: s.c,
    borderWidth: s.l ? s.lw : 0,
    borderDash: dashOf(s.l),
    pointStyle: s.m ? ps : false,
    pointRadius: s.m ? s.r : 0,
    pointHoverRadius: s.m ? s.r : 0,
    pointBorderWidth: s.mw,
    pointBorderColor: s.c,
    pointBackgroundColor: "rgba(0,0,0,0)",
    tension: 0,
    clip: false,
    order: -i,
  };
}

const fmt = (v: number) => String(Math.round(v * 10000) / 10000).replace("-", "\u2212");

const boxPlugin = {
  id: "matlabBox",
  afterDraw(chart: any) {
    const { ctx, chartArea } = chart;
    const { left, right, top, bottom } = chartArea;
    const xs = chart.scales.x, ys = chart.scales.y;
    const tl = 4;
    ctx.save();
    ctx.strokeStyle = "#000";
    ctx.lineWidth = 1;
    ctx.strokeRect(left + 0.5, top + 0.5, right - left - 1, bottom - top - 1);
    ctx.beginPath();
    xs.ticks.forEach((t: any) => {
      const px = Math.round(xs.getPixelForValue(t.value)) + 0.5;
      ctx.moveTo(px, bottom); ctx.lineTo(px, bottom - tl);
      ctx.moveTo(px, top); ctx.lineTo(px, top + tl);
    });
    ys.ticks.forEach((t: any) => {
      const py = Math.round(ys.getPixelForValue(t.value)) + 0.5;
      ctx.moveTo(left, py); ctx.lineTo(left + tl, py);
      ctx.moveTo(right, py); ctx.lineTo(right - tl, py);
    });
    ctx.stroke();
    ctx.restore();
  },
};

// ---------------- layout
const R1 = { y: 9, h: 207 }, R2 = { y: 356, h: 208 }, R3 = { y: 704, h: 207 }, R4 = { y: 1064, h: 207 }, R5 = { y: 1400, h: 208 };
const C1 = { x: 51, w: 335 }, C2 = { x: 501, w: 333 }, C3 = { x: 949, w: 333 };
const PT = 10, PR = 16;

interface Panel {
  id: string; col: any; row: any; xr: number[]; yr: number[]; xt: number[]; yt: number[];
  xtitle: string; ytitle: string; yGap: number; xGap: number; series: Ser[];
  lc: number[][]; lr: number[]; leg: Leg[]; cap: string; capX: number; capY: number;
}

const TH = "\u03b8", PH = "\u03c6";

const PANELS: Panel[] = [
  {
    id: "a", col: C1, row: R1, xr: [-1, 1], yr: [-5, 2], xt: A_XT, yt: A_YT,
    xtitle: "Angle (rad)", ytitle: "Angular Velocity (rad/s)", yGap: 36, xGap: 30,
    series: [S(A_SF_HU, K, "o", "-", 4), S(A_SH_HU, K, "d", "-", 4.5), S(A_SF_TB, B, "o", "-", 4), S(A_SH_TB, B, "d", "-", 4.5), S(A_SF_AT, R, "o", "-", 4), S(A_SH_AT, R, "d", "-", 4.5)],
    lc: [[68, 110, 116], [176, 220, 228], [295, 336, 339]], lr: [264, 284],
    leg: [L(K, "-", "o", 4, TH, "HU", "sf"), L(B, "-", "o", 4, TH, "TB", "sf"), L(R, "-", "o", 4, TH, "AT", "sf"), L(K, "-", "d", 4.5, TH, "HU", "sh"), L(B, "-", "d", 4.5, TH, "TB", "sh"), L(R, "-", "d", 4.5, TH, "AT", "sh")],
    cap: "(a) Phase portraits\u2014CG TB/AT", capX: 223, capY: 322,
  },
  {
    id: "b", col: C2, row: R1, xr: [0, 0.7], yr: [-0.6, 0.5], xt: B_XT, yt: B_YT,
    xtitle: "Time (s)", ytitle: "Slope", yGap: 39, xGap: 27,
    series: [S(zip(T_HU, MSL_HU), K, "o", null, 5.5, 2, 2), S(zip(T_HU, MNSL_HU), K, "o", null, 5.5, 2, 2), S(B_MSL_D, B, null, "--"), S(B_MNSL_D, B, null, ":", 4, 1.5), S(B_MSL_TB, B, "d", "-", 6), S(B_MNSL_TB, B, "s", "-", 6.5)],
    lc: [[490, 534, 536], [598, 650, 661], [732, 776, 782]], lr: [264, 284],
    leg: [L(K, null, "o", 5.5, "m", "HU", "sl"), L(B, "--", null, 0, "m", "d", "sl"), L(B, "-", "d", 6, "m", "TB", "sl"), L(K, null, "o", 5.5, "m", "HU", "nsl"), L(B, ":", null, 0, "m", "d", "nsl"), L(B, "-", "s", 6.5, "m", "TB", "nsl")],
    cap: "(b) Outputs\u2014CG TB", capX: 643, capY: 322,
  },
  {
    id: "c", col: C3, row: R1, xr: [0, 0.7], yr: [-0.6, 1], xt: B_XT, yt: C_YT,
    xtitle: "Time (s)", ytitle: "Slope/Position (m)", yGap: 41, xGap: 27,
    series: [S(zip(T_HU, PHIP_HU), K, "o", null, 5.5, 2, 2), S(zip(T_HU, MNSL_HU), K, "o", null, 5.5, 2, 2), S(C_PHIP_D, R, null, "--"), S(C_MNSL_D, R, null, ":", 4, 1.5), S(C_PHIP_AT, R, "d", "-", 6.5), S(C_MNSL_AT, R, "s", "-", 6.5)],
    lc: [[934, 978, 980], [1057, 1101, 1107], [1178, 1222, 1228]], lr: [264, 284],
    leg: [L(K, null, "o", 5.5, "p", "HU", "hip"), L(R, "--", null, 0, "p", "d", "hip"), L(R, "-", "d", 6.5, "p", "AT", "hip"), L(K, null, "o", 5.5, "m", "HU", "nsl"), L(R, ":", null, 0, "m", "d", "nsl"), L(R, "-", "s", 6.5, "m", "AT", "nsl")],
    cap: "(c) Outputs\u2014CG AT", capX: 1085, capY: 322,
  },
  {
    id: "d", col: C1, row: R2, xr: [-0.5, 1.5], yr: [-10, 20], xt: D_XT, yt: D_YT,
    xtitle: "Angle (rad)", ytitle: "Angular Velocity (rads/s)", yGap: 42, xGap: 29,
    series: [S(D_SF_TB, B, null, "--"), S(D_SF_AT, R, null, "-."), S(D_SK_TB, B, "o", "-", 4.5), S(D_SK_AT, R, "o", "-", 4.5), S(D_NSK_TB, B, "*", "-", 7), S(D_NSK_AT, R, "*", "-", 7)],
    lc: [[68, 105, 113], [182, 220, 229], [292, 330, 336]], lr: [609, 631],
    leg: [L(B, "--", null, 0, TH, "TB", "sf"), L(B, "-", "o", 4.5, TH, "TB", "sk"), L(B, "-", "*", 7, TH, "TB", "nsk"), L(R, "-.", null, 0, TH, "AT", "sf"), L(R, "-", "o", 4.5, TH, "AT", "sk"), L(R, "-", "*", 7, TH, "AT", "nsk")],
    cap: "(d) Phase portraits\u2014K2 TB/AT foot/knees", capX: 233, capY: 668,
  },
  {
    id: "e", col: C2, row: R2, xr: [-0.8, 0.6], yr: [-15, 5], xt: E_XT, yt: E_YT,
    xtitle: "Angle (rad)", ytitle: "Angular Velocity (rads/s)", yGap: 41, xGap: 29,
    series: [S(E_SH_TB, B, "o", "-", 4.5), S(E_SH_AT, R, "o", "-", 4.5), S(E_NSH_TB, B, "*", "-", 7), S(E_NSH_AT, R, "*", "-", 7)],
    lc: [[521, 584, 587], [688, 749, 752]], lr: [609, 631],
    leg: [L(B, "-", "o", 4.5, TH, "TB", "sh"), L(B, "-", "*", 7, TH, "TB", "nsh"), L(R, "-", "o", 4.5, TH, "AT", "sh"), L(R, "-", "*", 7, TH, "AT", "nsh")],
    cap: "(e) Phase portraits\u2014K2 TB/AT hip", capX: 660, capY: 668,
  },
  {
    id: "f", col: C3, row: R2, xr: [0, 0.6], yr: [-0.1, 1.3], xt: F_XT, yt: F_YT,
    xtitle: "Time (s)", ytitle: "Angle (rads)", yGap: 36, xGap: 29,
    series: [S(F_SK_H, K, "o", null, 4, 2, 1.8), S(F_NSK_H, K, "d", null, 5, 2, 1.8), S(F_SK_D, B, null, "--"), S(F_NSK_D, B, null, ":", 4, 1.5), S(F_SK_TB, B, "d", "-", 5), S(F_NSK_TB, B, "s", "-", 5.5)],
    lc: [[908, 952, 966], [1035, 1090, 1101], [1176, 1222, 1244]], lr: [609, 631],
    leg: [L(K, null, "o", 4, TH, "H", "sk"), L(B, "-", "d", 5, TH, "TB", "sk"), L(B, "--", null, 0, TH, "d", "sk"), L(K, null, "d", 5, TH, "H", "nsk"), L(B, "-", "s", 5.5, TH, "TB", "nsk"), L(B, ":", null, 0, TH, "d", "nsk")],
    cap: "(f) Outputs\u2014K2 TB knees", capX: 1096, capY: 668,
  },
  {
    id: "g", col: C1, row: R3, xr: [0, 0.6], yr: [-0.1, 1.3], xt: F_XT, yt: F_YT,
    xtitle: "Time (s)", ytitle: "Angle (rads)", yGap: 37, xGap: 29,
    series: [S(G_SK_H, K, "o", null, 4, 2, 1.8), S(G_NSK_H, K, "d", null, 5, 2, 1.8), S(G_SK_D, R, null, "--"), S(G_NSK_D, R, null, ":", 4, 1.5), S(G_SK_AT, R, "d", "-", 5), S(G_NSK_AT, R, "s", "-", 5.5)],
    lc: [[11, 55, 68], [141, 193, 207], [281, 330, 347]], lr: [957, 979],
    leg: [L(K, null, "o", 4, TH, "H", "sk"), L(R, "-", "d", 5, TH, "AT", "sk"), L(R, "--", null, 0, TH, "d", "sk"), L(K, null, "d", 5, TH, "H", "nsk"), L(R, "-", "s", 5.5, TH, "AT", "nsk"), L(R, ":", null, 0, TH, "d", "nsk")],
    cap: "(g) Outputs\u2014K2 AT knees", capX: 221, capY: 1016,
  },
  {
    id: "h", col: C2, row: R3, xr: [0, 0.6], yr: [-0.6, 0.9], xt: F_XT, yt: H_YT,
    xtitle: "Time (s)", ytitle: "Slope / Position (m)", yGap: 44, xGap: 29,
    series: [S(H_PHIP_H, K, "o", null, 4, 2, 1.8), S(H_MNSL_H, K, "d", null, 5.5, 2, 1.8), S(H_PHIP_D, B, null, "--"), S(H_MNSL_D, B, null, ":", 4, 1.5), S(H_PHIP_TB, B, "d", "-", 5.5), S(H_MNSL_TB, B, "s", "-", 5.5)],
    lc: [[459, 503, 514], [589, 642, 658], [727, 782, 793]], lr: [957, 979],
    leg: [L(K, null, "o", 4, "p", "H", "hip"), L(B, "-", "d", 5.5, "p", "TB", "hip"), L(B, "--", null, 0, "p", "d", "hip"), L(K, null, "d", 5.5, "m", "H", "nsl"), L(B, "-", "s", 5.5, "m", "TB", "nsl"), L(B, ":", null, 0, "m", "d", "nsl")],
    cap: "(h) Outputs\u2014K2 TB slopes", capX: 658, capY: 1016,
  },
  {
    id: "i", col: C3, row: R3, xr: [0, 0.6], yr: [-0.6, 0.9], xt: F_XT, yt: H_YT,
    xtitle: "Time (s)", ytitle: "Slope / Position (m)", yGap: 42, xGap: 29,
    series: [S(H_PHIP_H, K, "o", null, 4, 2, 1.8), S(H_MNSL_H, K, "d", null, 5.5, 2, 1.8), S(I_PHIP_D, R, null, "--"), S(I_MNSL_D, R, null, ":", 4, 1.5), S(I_PHIP_AT, R, "d", "-", 5.5), S(I_MNSL_AT, R, "s", "-", 5.5)],
    lc: [[908, 952, 966], [1040, 1093, 1101], [1176, 1228, 1239]], lr: [957, 979],
    leg: [L(K, null, "o", 4, "p", "H", "hip"), L(R, "-", "d", 5.5, "p", "AT", "hip"), L(R, "--", null, 0, "p", "d", "hip"), L(K, null, "d", 5.5, "m", "H", "nsl"), L(R, "-", "s", 5.5, "m", "AT", "nsl"), L(R, ":", null, 0, "m", "d", "nsl")],
    cap: "(i) Outputs\u2014K2 AT hip position/slope", capX: 1099, capY: 1016,
  },
  {
    id: "j", col: C1, row: R4, xr: [-0.5, 1.5], yr: [-10, 20], xt: D_XT, yt: D_YT,
    xtitle: "Angle (rad)", ytitle: "Angular Velocity (rads/s)", yGap: 42, xGap: 29,
    series: [S(J_SF_A, B, null, "--"), S(J_SF_B, B, null, "--"), S(J_SK, B, "o", "-", 4.5), S(J_NSK, B, "*", "-", 7)],
    lc: [[68, 107, 113], [154, 209, 218], [270, 325, 332]], lr: [1328],
    leg: [L(B, "--", null, 0, TH, "", "sf"), L(B, "-", "o", 4.5, TH, "", "sk"), L(B, "-", "*", 7, TH, "", "nsk")],
    cap: "(j) Phase portraits\u2014K3 TB foot/knees", capX: 224, capY: 1364,
  },
  {
    id: "k", col: C2, row: R4, xr: [-0.6, 0.4], yr: [-15, 5], xt: K_XT, yt: E_YT,
    xtitle: "Angle (rad)", ytitle: "Angular Velocity (rads/s)", yGap: 41, xGap: 29,
    series: [S(K_SH, B, "o", "-", 4.5), S(K_NSH, B, "*", "-", 7)],
    lc: [[521, 584, 587], [683, 749, 752]], lr: [1328],
    leg: [L(B, "-", "o", 4.5, TH, "", "sh"), L(B, "-", "*", 7, TH, "", "nsh")],
    cap: "(k) Phase portraits\u2014K3 TB hip", capX: 662, capY: 1364,
  },
  {
    id: "l", col: C3, row: R4, xr: [-0.1, 0.15], yr: [-1, 2], xt: L_XT, yt: L_YT,
    xtitle: "Angle (rad)", ytitle: "Angular Velocity (rads/s)", yGap: 42, xGap: 29,
    series: [S(L_SF_A, B, null, "--"), S(L_SF_B, B, null, "--"), S(L_SH, B, "o", "-", 4.5), S(L_NSH, B, "*", "-", 7)],
    lc: [[966, 1010, 1013], [1079, 1134, 1140], [1184, 1239, 1244]], lr: [1328],
    leg: [L(B, "-.", null, 0, PH, "", "sf"), L(B, "-", "o", 4.5, PH, "", "sh"), L(B, "-", "*", 7, PH, "", "nsh")],
    cap: "(l) Phase portraits\u2014K3 TB 3d", capX: 1116, capY: 1364,
  },
  {
    id: "m", col: C1, row: R5, xr: [0, 0.6], yr: [-0.1, 1.3], xt: F_XT, yt: F_YT,
    xtitle: "Time (s)", ytitle: "Angle (rads)", yGap: 37, xGap: 29,
    series: [S(G_SK_H, K, "o", null, 4.5, 2, 1.8), S(G_NSK_H, K, "o", null, 4.5, 2, 1.8), S(M_SK_D, B, null, "--"), S(M_NSK_D, B, null, ":", 4, 1.5), S(M_SK_TB, B, "d", "-", 5), S(M_NSK_TB, B, "s", "-", 5.5)],
    lc: [[11, 55, 68], [141, 193, 209], [281, 330, 347]], lr: [1654, 1676],
    leg: [L(K, null, "o", 4.5, TH, "HU", "sk"), L(B, "--", null, 0, TH, "d", "sk"), L(B, "-", "d", 5, TH, "TB", "sk"), L(K, null, "o", 4.5, TH, "HU", "nsk"), L(B, ":", null, 0, TH, "d", "nsk"), L(B, "-", "s", 5.5, TH, "TB", "nsk")],
    cap: "(m) Outputs\u2014K3 TB knees", capX: 201, capY: 1712,
  },
  {
    id: "n", col: C2, row: R5, xr: [0, 0.6], yr: [-0.6, 0.7], xt: F_XT, yt: N_YT,
    xtitle: "Time (s)", ytitle: "Slope/Position (m)", yGap: 39, xGap: 29,
    series: [S(zip(T_HU, PHIP_HU), K, "o", null, 4.5, 2, 1.8), S(zip(T_HU, MNSL_HU), K, "o", null, 4.5, 2, 1.8), S(N_PHIP_D, B, null, "--"), S(N_MNSL_D, B, null, ":", 4, 1.5), S(N_PHIP_TB, B, "d", "-", 5), S(N_MNSL_TB, B, "s", "-", 5.5)],
    lc: [[459, 503, 510], [595, 650, 655], [735, 787, 793]], lr: [1654, 1676],
    leg: [L(K, null, "o", 4.5, "p", "HU", "hip"), L(B, "--", null, 0, "p", "d", "hip"), L(B, "-", "d", 5, "p", "TB", "hip"), L(K, null, "o", 4.5, "m", "HU", "nsl"), L(B, ":", null, 0, "m", "d", "nsl"), L(B, "-", "s", 5.5, "m", "TB", "nsl")],
    cap: "(n) Outputs\u2014K3 TB hip position/slope", capX: 660, capY: 1712,
  },
  {
    id: "o", col: C3, row: R5, xr: [0, 0.7], yr: [0.05, 0.25], xt: B_XT, yt: O_YT,
    xtitle: "Time (s)", ytitle: "Angle (rads)", yGap: 41, xGap: 29,
    series: [S(zip(T_O, O_SH_HU), K, "o", null, 4.5, 2, 1.8), S(zip(T_O, O_NSH_HU), K, "o", null, 4.5, 2, 1.8), S(zip(T_O, O_SH_TB), B, "d", "-", 5), S(zip(T_O, O_NSH_TB), B, "s", "-", 5.5)],
    lc: [[906, 950, 960], [1040, 1095, 1101], [1180, 1233, 1239]], lr: [1654, 1676],
    leg: [L(K, null, "o", 4.5, PH, "HU", "sh"), L(B, "--", null, 0, PH, "d", "sh"), L(B, "-", "d", 5, PH, "TB", "sh"), L(K, null, "o", 4.5, PH, "HU", "nsh"), L(B, ":", null, 0, PH, "d", "nsh"), L(B, "-", "s", 5.5, PH, "TB", "nsh")],
    cap: "(o) Outputs\u2014K3 TB hip roll", capX: 1101, capY: 1712,
  },
];

const TICK_FONT = { family: SANS, size: 13 };
const TITLE_FONT = { family: SERIF, size: 18, lineHeight: "22px" };

function PanelChart({ p }: { p: Panel }) {
  const ref = useRef<HTMLCanvasElement | null>(null);
  const yw = p.yGap + 11;
  const xh = p.xGap + 11;
  const W = yw + p.col.w + PR;
  const H = PT + p.row.h + xh;
  useEffect(() => {
    if (!ref.current) return;
    const chart = new Chart(ref.current, {
      type: "scatter",
      data: { datasets: p.series.map((s, i) => toDs(s, i)) as any },
      options: {
        animation: false,
        responsive: false,
        maintainAspectRatio: false,
        events: [],
        layout: { padding: { left: 0, top: PT, right: PR, bottom: 0 } },
        plugins: { legend: { display: false }, tooltip: { enabled: false } },
        scales: {
          x: {
            type: "linear", min: p.xr[0], max: p.xr[1], bounds: "data",
            afterBuildTicks: (sc: any) => { sc.ticks = p.xt.map((v) => ({ value: v })); },
            afterFit: (sc: any) => { sc.height = xh; },
            grid: { display: false, drawTicks: false },
            border: { display: false },
            ticks: { autoSkip: false, maxRotation: 0, minRotation: 0, padding: 5, font: TICK_FONT, color: "#000", callback: (v: any) => fmt(Number(v)) },
            title: { display: true, text: p.xtitle, font: TITLE_FONT, color: "#2b2b2b", padding: 0 },
          },
          y: {
            type: "linear", min: p.yr[0], max: p.yr[1], bounds: "data",
            afterBuildTicks: (sc: any) => { sc.ticks = p.yt.map((v) => ({ value: v })); },
            afterFit: (sc: any) => { sc.width = yw; },
            grid: { display: false, drawTicks: false },
            border: { display: false },
            ticks: { autoSkip: false, padding: 4, font: TICK_FONT, color: "#000", callback: (v: any) => fmt(Number(v)) },
            title: { display: true, text: p.ytitle, font: TITLE_FONT, color: "#2b2b2b", padding: 0 },
          },
        },
      } as any,
      plugins: [boxPlugin],
    });
    return () => chart.destroy();
  }, []);
  return (
    <canvas
      ref={ref}
      width={W}
      height={H}
      style={{ position: "absolute", left: p.col.x - yw, top: p.row.y - PT, width: W, height: H }}
    />
  );
}

function MarkerSvg({ m, c, r, cx, cy }: { m: string | null; c: string; r: number; cx: number; cy: number }) {
  if (!m) return null;
  if (m === "o") return <circle cx={cx} cy={cy} r={r} fill="none" stroke={c} strokeWidth={1.7} />;
  if (m === "d") return <polygon points={`${cx - r},${cy} ${cx},${cy - r} ${cx + r},${cy} ${cx},${cy + r}`} fill="none" stroke={c} strokeWidth={1.7} />;
  if (m === "s") { const h = r * 0.707; return <rect x={cx - h} y={cy - h} width={2 * h} height={2 * h} fill="none" stroke={c} strokeWidth={1.7} />; }
  const pts = starPts(cx, cy + r * 0.08, r).map((p) => p[0].toFixed(2) + "," + p[1].toFixed(2)).join(" ");
  return <polygon points={pts} fill="none" stroke={c} strokeWidth={2} />;
}

function LegendEntry({ e, col, y }: { e: Leg; col: number[]; y: number }) {
  const w = col[1] - col[0];
  return (
    <>
      <svg width={w + 16} height={24} style={{ position: "absolute", left: col[0] - 8, top: y - 12, overflow: "visible" }}>
        {e.l ? <line x1={8} y1={12} x2={8 + w} y2={12} stroke={e.c} strokeWidth={e.l === ":" ? 1.5 : 2} strokeDasharray={dashOf(e.l).join(" ")} /> : null}
        <MarkerSvg m={e.m} c={e.c} r={e.r} cx={8 + w / 2} cy={12} />
      </svg>
      <div style={{ position: "absolute", left: col[2], top: y - 16, height: 32, display: "flex", alignItems: "center" }}>
        <span style={{ display: "inline-flex", alignItems: "center", fontFamily: SERIF, fontStyle: "italic", color: "#000", whiteSpace: "nowrap" }}>
          <span style={{ fontSize: 20, lineHeight: "20px" }}>{e.b}</span>
          <span style={{ display: "inline-flex", flexDirection: "column", fontSize: 13, lineHeight: "12px", marginLeft: 1 }}>
            <span style={{ minHeight: 12 }}>{e.sup || "\u00a0"}</span>
            <span style={{ minHeight: 12, marginTop: 2 }}>{e.sub}</span>
          </span>
        </span>
      </div>
    </>
  );
}

function PanelView({ p }: { p: Panel }) {
  const ncol = p.lc.length;
  return (
    <>
      <PanelChart p={p} />
      {p.leg.map((e, k) => (
        <LegendEntry key={k} e={e} col={p.lc[k % ncol]} y={p.lr[Math.floor(k / ncol)]} />
      ))}
      <div
        style={{
          position: "absolute", left: p.capX, top: p.capY - 13, transform: "translateX(-50%)",
          fontFamily: SERIF, fontSize: 22, lineHeight: "26px", wordSpacing: 2, whiteSpace: "nowrap", color: "#000",
        }}
      >
        {p.cap}
      </div>
    </>
  );
}

export default function App() {
  return (
    <div style={{ position: "absolute", left: 0, top: 0, width: 1306, height: 1726, background: "#fff", overflow: "hidden" }}>
      {PANELS.map((p) => (
        <PanelView key={p.id} p={p} />
      ))}
    </div>
  );
}
